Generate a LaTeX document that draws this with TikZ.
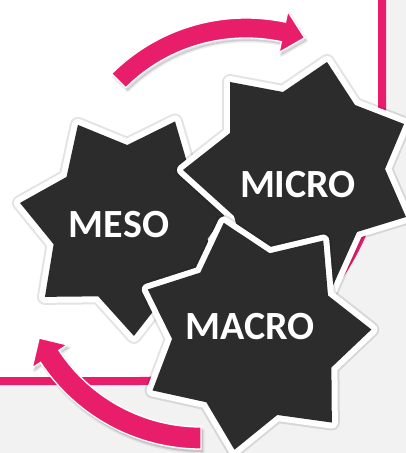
\documentclass[tikz,border=0pt]{standalone}
\usepackage{fontspec}
\setmainfont{Carlito}
\definecolor{pinkc}{RGB}{232,30,106}
\definecolor{darkc}{RGB}{44,44,44}
\definecolor{bgc}{RGB}{242,242,242}
\newcommand\gearstar[5]{%
  \path[#5,shift={#1}] (#2:#3) \foreach \k in {1,...,13}{ -- ({#2+\k*180/7}:{#3-(#3-#4)*mod(\k,2)})} -- cycle;}
\begin{document}
\begin{tikzpicture}[x=1pt,y=-1pt,
  starsty/.style={fill=darkc,
    preaction={draw=black,draw opacity=0.11,line width=16pt,line join=round},
    preaction={draw=white,line width=12pt,line join=round}},
  lbl/.style={text=white,font=\fontsize{40}{40}\selectfont\bfseries,inner sep=0pt},
  arrowsty/.style={fill=pinkc,draw=white,line width=1.3pt,line join=miter},
  shadsty/.style={fill=black,fill opacity=0.13,draw=black,draw opacity=0.07,line width=3pt,line join=round}]
\useasboundingbox (0,0) rectangle (406,453);
% background
\fill[bgc] (0,0) rectangle (406,453);
\fill[white] (0,0) -- (382,0) -- (382,138) arc[start angle=0,end angle=90,radius=243] -- (0,381) -- cycle;
\draw[pinkc,line width=8pt] (382,-5) -- (382,138) arc[start angle=0,end angle=90,radius=243] -- (-5,381);
% top arrow
\path[shadsty,shift={(248,211)}] (-135:190) arc[start angle=-135,end angle=-78,radius=190] -- (-78:201) -- (-71:180) -- (-78:159) -- (-78:170) arc[start angle=-78,end angle=-135,radius=170] -- cycle;
\path[arrowsty,shift={(246,208)}] (-135:190) arc[start angle=-135,end angle=-78,radius=190] -- (-78:201) -- (-71:180) -- (-78:159) -- (-78:170) arc[start angle=-78,end angle=-135,radius=170] -- cycle;
% bottom arrow
\path[shadsty,shift={(203,260)}] (90:192) arc[start angle=90,end angle=146.7,radius=192] -- (146.7:202) -- (153.4:181) -- (146.7:160) -- (146.7:170) arc[start angle=146.7,end angle=90,radius=170] -- cycle;
\path[arrowsty,shift={(201,257)}] (90:192) arc[start angle=90,end angle=146.7,radius=192] -- (146.7:202) -- (153.4:181) -- (146.7:160) -- (146.7:170) arc[start angle=146.7,end angle=90,radius=170] -- cycle;
% stars
\gearstar{(130,224)}{-66.3}{112}{79}{starsty}
\path[starsty] (327,62) -- (355,105) -- (404,124) -- (385,169) -- (406,217) -- (357,232)
  -- (322,310) -- (290,262) -- (255,292) -- (234,216) -- (183,170) -- (230,133)
  -- (230,82) -- (283,92) -- cycle;
\gearstar{(255,335)}{-2.7}{116.5}{83}{starsty}
% labels
\node[lbl] (meso) at (119,225) {MESO};
\node[lbl] (micro) at (298,185) {MICRO};
\node[lbl] (macro) at (250,327) {MACRO};
\end{tikzpicture}
\end{document}
